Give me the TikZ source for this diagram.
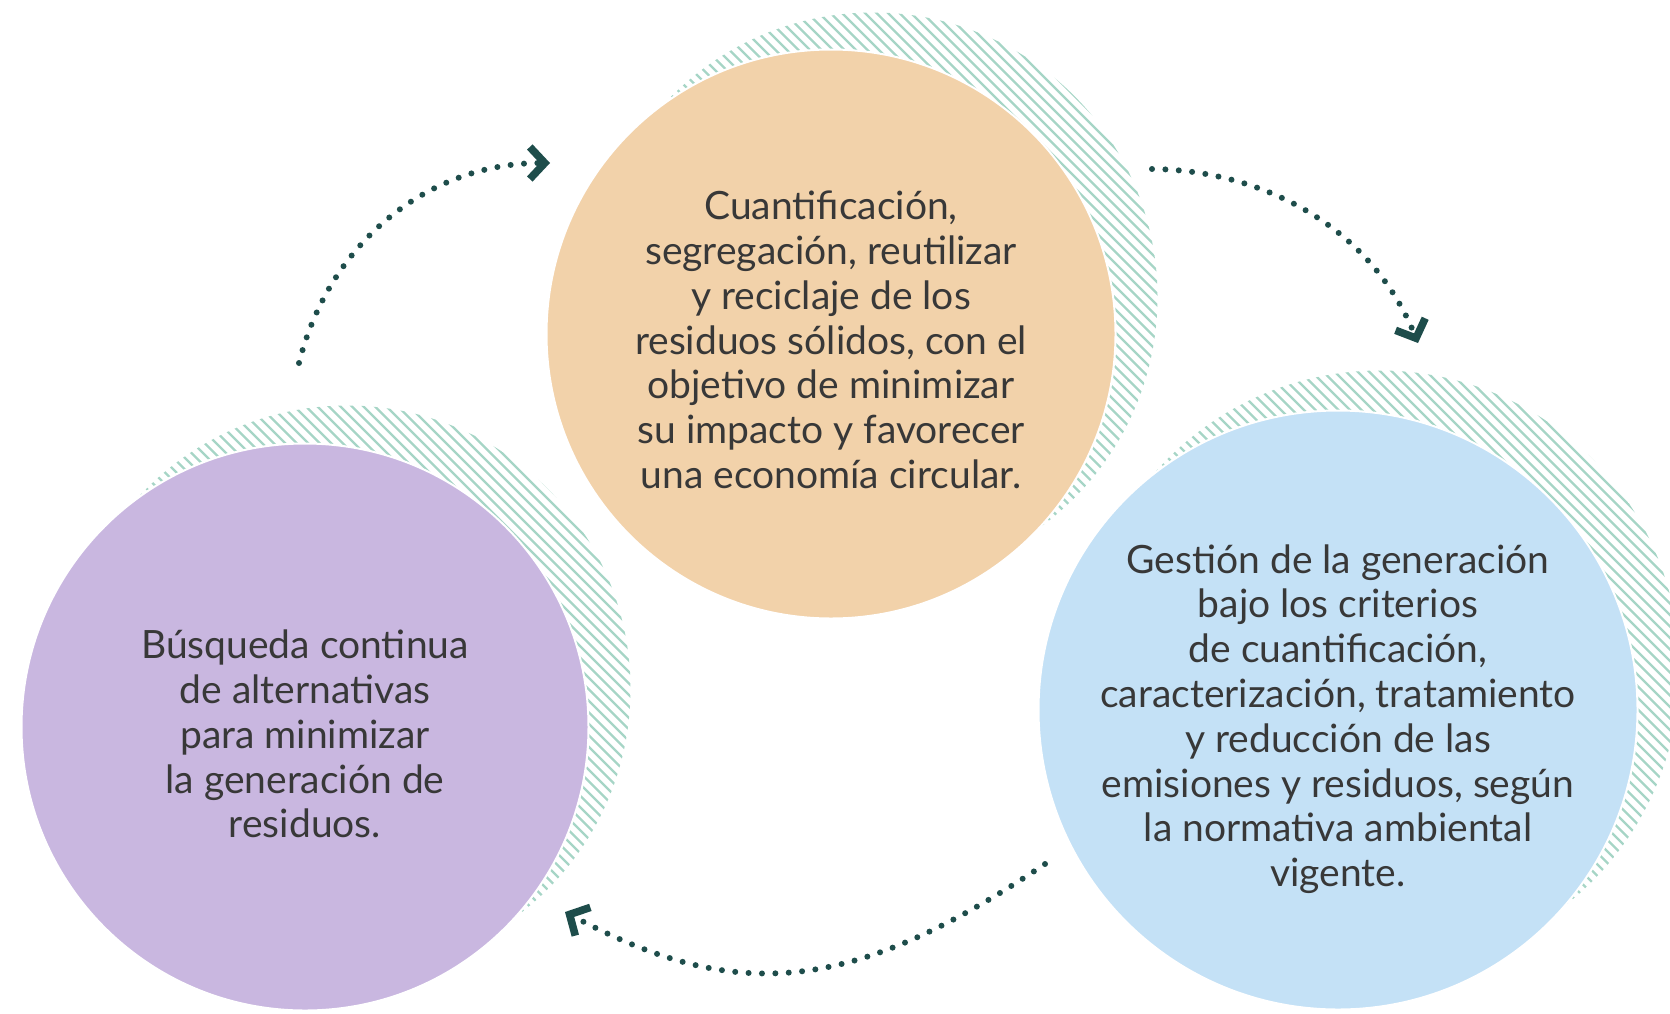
\documentclass[tikz,border=0pt]{standalone}
\usepackage{fontspec}
\setmainfont{Lato}
\usepackage{tikz}
\usetikzlibrary{arrows.meta}
\definecolor{peach}{HTML}{F2D2AA}
\definecolor{lilac}{HTML}{C9B7E0}
\definecolor{sky}{HTML}{C4E1F6}
\definecolor{mint}{HTML}{A6D5C6}
\definecolor{teal}{HTML}{1E4D4B}
\definecolor{ink}{HTML}{383838}

\begin{document}
\begin{tikzpicture}[x=0.5pt,y=-0.5pt,
 bubble/.style={circle,draw=white,line width=1pt,inner sep=0pt},
 blurb/.style={align=center,text=ink,inner sep=0pt,font=\fontsize{19.5}{22.4}\selectfont},
 hatch/.style={draw=mint,line width=1.1pt},
 flow/.style={teal,line width=3pt,line cap=round,dash pattern=on 0pt off 6.7pt,
   -{Straight Barb[length=7.5pt,width=16pt,line width=3.8pt]}}]
\useasboundingbox (0,0) rectangle (1670,1013);
% hatched shadows
\foreach \cx/\cy/\r in {873/297/284.5, 347/689/283.5, 1380/670/299.5} {
  \begin{scope}
    \clip (\cx,\cy) circle[radius=\r];
    \foreach \k in {-40,...,40}
      \draw[hatch] (\cx+\k*11.5-700,\cy-700) -- ++(1400,1400);
  \end{scope}
}
% circles
\node[bubble,fill=peach,minimum size=284.5pt] (cuant) at (831,334) {};
\node[bubble,fill=lilac,minimum size=283.5pt] (busq) at (305,727) {};
\node[bubble,fill=sky,minimum size=299.5pt] (gest) at (1338,710) {};
% texts
\node[blurb,yshift=-3pt] (cuanttxt) at (cuant) {Cuantificación,\\segregación, reutilizar\\y reciclaje de los\\residuos sólidos, con el\\objetivo de minimizar\\su impacto y favorecer\\una economía circular.};
\node[blurb,yshift=-3.5pt] (busqtxt) at (busq) {Búsqueda continua\\de alternativas\\para minimizar\\la generación de\\residuos.};
\node[blurb,yshift=-4.5pt] (gesttxt) at (gest) {Gestión de la generación\\bajo los criterios\\de cuantificación,\\caracterización, tratamiento\\y reducción de las\\emisiones y residuos, según\\la normativa ambiental\\vigente.};
% cycle arrows
\coordinate (a1) at (299,363);
\coordinate (b1) at (550,163);
\coordinate (a2) at (1152,169);
\coordinate (b2) at (1418,343);
\coordinate (a3) at (1045,864);
\coordinate (b3) at (565,912);
\draw[flow] (a1) .. controls (330,240) and (430,163) .. (b1);
\draw[flow] (a2) .. controls (1260,170) and (1370,225) .. (b2);
\draw[flow] (a3) .. controls (846,998) and (732,1001) .. (b3);
\end{tikzpicture}
\end{document}
